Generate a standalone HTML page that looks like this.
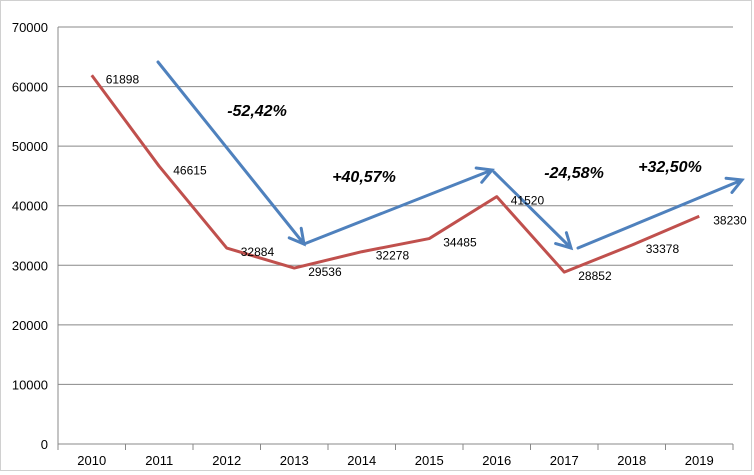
<!DOCTYPE html>
<html><head><meta charset="utf-8"><style>
body{margin:0;background:#fff}
svg{display:block;font-family:"Liberation Sans",sans-serif}
</style></head><body>
<svg width="754" height="475">
<rect x="0.5" y="0.5" width="751" height="470" fill="#fff" stroke="#d0d0d0"/>
<g id="grid"></g><g id="axes"></g><g id="series"></g><g id="arrows"></g><g id="labels"></g>
</svg>
<script>
const categories=["2010","2011","2012","2013","2014","2015","2016","2017","2018","2019"];
const values=[61898,46615,32884,29536,32278,34485,41520,28852,33378,38230];
const yTicks=[0,10000,20000,30000,40000,50000,60000,70000];
const pctLabels=["-52,42%","+40,57%","-24,58%","+32,50%"];
const NS="http://www.w3.org/2000/svg";
const L=58,R=733,T=27,B=444,yMax=70000;
const cw=(R-L)/categories.length;
const x=i=>L+cw*(i+0.5);
const y=v=>B-(v/yMax)*(B-T);
function mk(tag,attrs,parent,text){const e=document.createElementNS(NS,tag);for(const k in attrs)e.setAttribute(k,attrs[k]);if(text!==undefined)e.textContent=text;document.getElementById(parent).appendChild(e);return e;}
yTicks.forEach(t=>{
 const g=mk('line',{x1:L,x2:R,y1:y(t),y2:y(t),stroke:'#888','stroke-width':1},'grid');
 
 
 const tx=mk('text',{x:L-10,y:y(t)+5,'text-anchor':'end','font-size':13,fill:'#000'},'axes',t);
 
 
});
const ax=mk('line',{x1:L,x2:L,y1:T,y2:B,stroke:'#888'},'axes');


for(let i=0;i<=categories.length;i++){
 const tk=mk('line',{x1:L+cw*i,x2:L+cw*i,y1:B,y2:B+6,stroke:'#888'},'axes');
 
 
}
categories.forEach((c,i)=>{
 const t=mk('text',{x:x(i),y:B+21,'text-anchor':'middle','font-size':13},'axes',c);
 
 
});
const pl=mk('polyline',{points:values.map((v,i)=>x(i)+','+y(v)).join(' '),fill:'none',stroke:'#c0504d','stroke-width':3,'stroke-linejoin':'round'},'series');


values.forEach((v,i)=>{
 const t=mk('text',{x:x(i)+14,y:y(v)+8,'font-size':12},'labels',v);
 
 
});
// hand-drawn trend arrows
const arrows=[[158,62,304,244],[304,244,492,170],[494,172,571,248],[578,248,742,180]];
arrows.forEach(a=>{
 const [x1,y1,x2,y2]=a;
 const g=mk('g',{},'arrows');
 
 
 const ang=Math.atan2(y2-y1,x2-x1),h=16;
 const p1=[x2-h*Math.cos(ang-0.5),y2-h*Math.sin(ang-0.5)],p2=[x2-h*Math.cos(ang+0.5),y2-h*Math.sin(ang+0.5)];
 const l=document.createElementNS(NS,'path');
 l.setAttribute('d',`M${x1},${y1}L${x2},${y2}M${p1}L${x2},${y2}L${p2}`);
 l.setAttribute('fill','none');l.setAttribute('stroke','#4f81bd');l.setAttribute('stroke-width',3);l.setAttribute('stroke-linecap','round');
 g.appendChild(l);
});
const pctPos=[[257,116],[364,182],[574,178],[670,172]];
pctLabels.forEach((p,i)=>{
 const t=mk('text',{x:pctPos[i][0],y:pctPos[i][1],'text-anchor':'middle','font-size':16,'font-weight':'bold','font-style':'italic'},'labels',p);
 
 
});
</script>
</body></html>
